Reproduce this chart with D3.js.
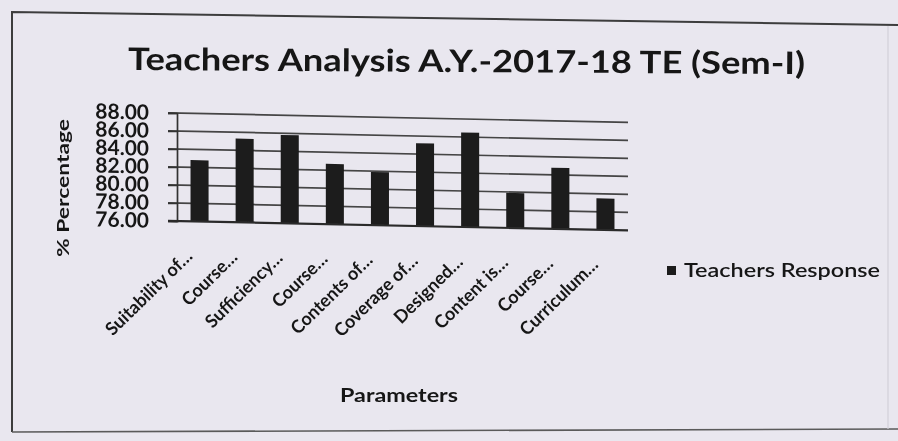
<!DOCTYPE html>
<html>
<head>
<meta charset="utf-8">
<script src="https://cdn.jsdelivr.net/npm/d3@7"></script>
<style>
  html, body { margin: 0; padding: 0; background: #e9e7ef; }
  svg { display: block; }
  text { font-family: Lato, "Open Sans", sans-serif; fill: #161616; }
</style>
</head>
<body>
<svg id="chart" width="898" height="441"></svg>
<script>
// ---- data ----
const categories = ["Suitability of\u2026", "Course\u2026", "Sufficiency\u2026", "Course\u2026", "Contents of\u2026",
                    "Coverage of\u2026", "Designed\u2026", "Content is\u2026", "Course\u2026", "Curriculum\u2026"];
const values = [82.8, 85.3, 85.8, 82.7, 81.9, 85.2, 86.5, 79.9, 82.8, 79.5];
const yTicks = [76, 78, 80, 82, 84, 86, 88];
const seriesName = "Teachers Response";
const titleText = "Teachers Analysis A.Y.-2017-18 TE (Sem-I)";
const yTitle = "% Percentage";
const xTitle = "Parameters";

// ---- layout ----
const svg = d3.select("#chart");
const defs = svg.append("defs");
defs.append("filter").attr("id", "blur")
  .append("feGaussianBlur").attr("stdDeviation", 0.6);

const root = svg.append("g").attr("filter", "url(#blur)");

root.append("rect").attr("x", 0).attr("y", 0).attr("width", 898).attr("height", 441).attr("fill", "#e9e7ef");

// frame (photographed with slight perspective)
root.append("path")
  .attr("d", "M12,432 L12,12 L898,25")
  .attr("fill", "none").attr("stroke", "#3c3c3c").attr("stroke-width", 2);
root.append("path")
  .attr("d", "M12,432 L898,429")
  .attr("fill", "none").attr("stroke", "#5a5a5a").attr("stroke-width", 1.6);
root.append("path")
  .attr("d", "M888,26 L888,429")
  .attr("fill", "none").attr("stroke", "#d2d0d8").attr("stroke-width", 1.2);

// title
root.append("text")
  .attr("transform", "translate(128,70) rotate(0.35)")
  .attr("font-size", 31).attr("font-weight", 700)
  .attr("textLength", 677).attr("lengthAdjust", "spacingAndGlyphs")
  .text(titleText);

// plot group with slight skew like the photo
const x0 = 177, x1 = 628;
const skewDeg = 1.2;
const plot = root.append("g")
  .attr("transform", `translate(0,${-x0 * Math.tan(skewDeg * Math.PI / 180)}) skewY(${skewDeg})`);

const x = d3.scaleBand().domain(d3.range(categories.length)).range([x0, x1])
  .paddingInner(0.6).paddingOuter(0.3);
const y = d3.scaleLinear().domain([76, 88]).range([221, 113]);

// gridlines
plot.append("g").selectAll("line").data(yTicks.slice(1)).join("line")
  .attr("x1", x0 - 9).attr("x2", x1)
  .attr("y1", d => y(d)).attr("y2", d => y(d))
  .attr("stroke", "#444").attr("stroke-width", 1.7);

// y axis
const yAxis = d3.axisLeft(y).tickValues(yTicks).tickFormat(d3.format(".2f")).tickSize(9).tickPadding(19);
const yg = plot.append("g").attr("transform", `translate(${x0},0)`).call(yAxis);
yg.select(".domain").attr("stroke", "#333").attr("stroke-width", 1.7);
yg.selectAll(".tick line").attr("stroke", "#333").attr("stroke-width", 1.7);
yg.selectAll(".tick text")
  .attr("font-family", "Lato, sans-serif").attr("font-size", 21).attr("font-weight", 700)
  .attr("fill", "#222");

// bars
plot.append("g").selectAll("rect").data(values).join("rect")
  .attr("x", (d, i) => x(i)).attr("width", x.bandwidth())
  .attr("y", d => y(d)).attr("height", d => y(76) - y(d))
  .attr("fill", "#1a1a1a");

// x axis
const xAxis = d3.axisBottom(x).tickSize(0).tickFormat(i => categories[i]);
const xg = plot.append("g").attr("transform", `translate(0,${y(76)})`).call(xAxis);
xg.select(".domain").attr("d", `M${x0 - 9},0H${x1}`).attr("stroke", "#2a2a2a").attr("stroke-width", 2.2);
xg.selectAll(".tick text")
  .attr("font-family", "Lato, sans-serif").attr("font-size", 18).attr("font-weight", 700)
  .attr("fill", "#1a1a1a")
  .attr("text-anchor", "end")
  .attr("y", 0).attr("dy", 0)
  .attr("transform", "translate(-6,36) rotate(-45)");

// y title
root.append("text")
  .attr("transform", "translate(62,188) rotate(-90)")
  .attr("text-anchor", "middle").attr("dominant-baseline", "central")
  .attr("font-size", 17).attr("font-weight", 700)
  .attr("textLength", 138).attr("lengthAdjust", "spacingAndGlyphs")
  .text(yTitle);

// x title
root.append("text")
  .attr("x", 340).attr("y", 402)
  .attr("font-size", 19).attr("font-weight", 700)
  .attr("textLength", 118).attr("lengthAdjust", "spacingAndGlyphs")
  .text(xTitle);

// legend
const lg = root.append("g");
lg.append("rect").attr("x", 667).attr("y", 266).attr("width", 9).attr("height", 9).attr("fill", "#1b1b1b");
lg.append("text").attr("x", 684).attr("y", 277)
  .attr("font-size", 19).attr("font-weight", 600)
  .attr("textLength", 196).attr("lengthAdjust", "spacingAndGlyphs")
  .text(seriesName);
</script>
</body>
</html>
